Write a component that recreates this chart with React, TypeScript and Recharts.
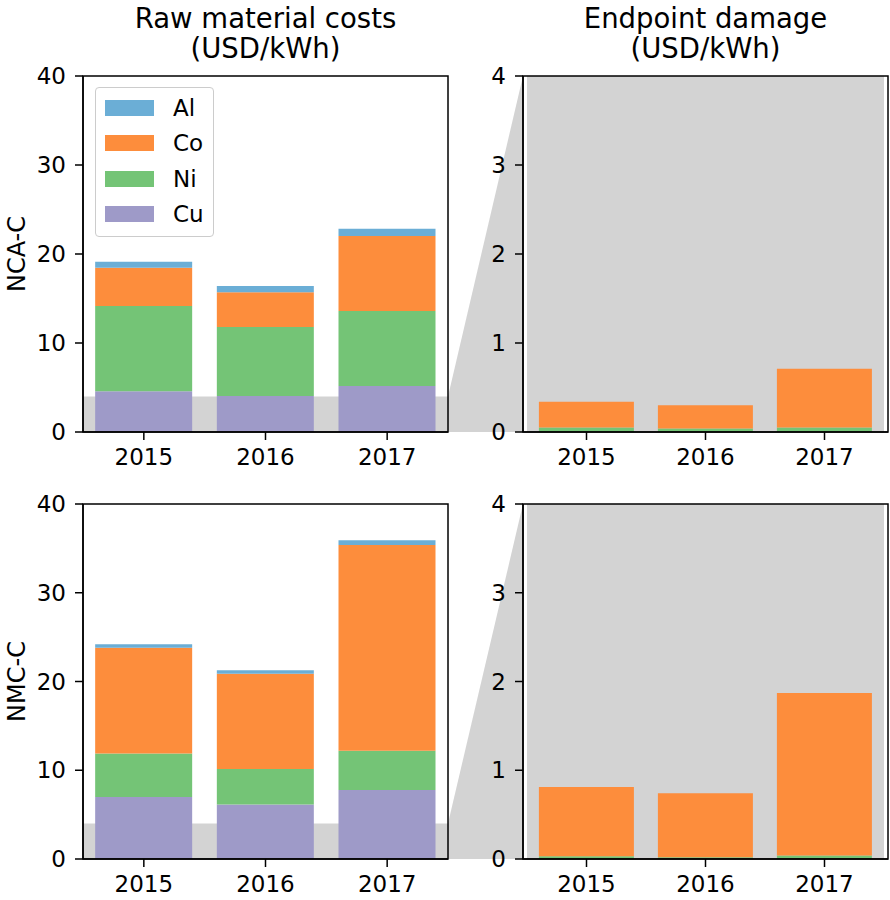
import React from 'react';
import { BarChart, Bar, XAxis, YAxis, ReferenceArea, Legend } from 'recharts';

// ---------- data ----------
const YEARS = ['2015', '2016', '2017'];
const METALS = ['Cu', 'Ni', 'Co', 'Al'];
const LEGEND_ORDER = ['Al', 'Co', 'Ni', 'Cu'];
const COLORS: Record<string, string> = {
  Cu: '#9e9ac8',
  Ni: '#74c476',
  Co: '#fd8d3c',
  Al: '#6baed6',
};

// NCA-C raw material costs (USD/kWh)
const ncaCostCu = [4.57, 4.04, 5.17];
const ncaCostNi = [9.59, 7.76, 8.43];
const ncaCostCo = [4.3, 3.89, 8.42];
const ncaCostAl = [0.68, 0.71, 0.83];

// NMC-C raw material costs (USD/kWh)
const nmcCostCu = [6.98, 6.15, 7.77];
const nmcCostNi = [4.91, 3.98, 4.43];
const nmcCostCo = [11.9, 10.73, 23.18];
const nmcCostAl = [0.41, 0.42, 0.53];

// NCA-C endpoint damage (USD/kWh)
const ncaDmgCu = [0, 0, 0];
const ncaDmgNi = [0.05, 0.04, 0.05];
const ncaDmgCo = [0.29, 0.26, 0.66];
const ncaDmgAl = [0, 0, 0];

// NMC-C endpoint damage (USD/kWh)
const nmcDmgCu = [0, 0, 0];
const nmcDmgNi = [0.03, 0.02, 0.04];
const nmcDmgCo = [0.78, 0.72, 1.83];
const nmcDmgAl = [0, 0, 0];

const COST_TICKS = [0, 10, 20, 30, 40];
const DMG_TICKS = [0, 1, 2, 3, 4];
const COST_MAX = 40;
const DMG_MAX = 4;
const ZOOM_MAX = 4; // zoomed range of the cost axis shown in the damage panel

const TITLE_LEFT = ['Raw material costs', '(USD/kWh)'];
const TITLE_RIGHT = ['Endpoint damage', '(USD/kWh)'];
const ROW_LABELS = ['NCA-C', 'NMC-C'];

function buildRows(cu: number[], ni: number[], co: number[], al: number[]) {
  return YEARS.map((year, i) => ({ year, Cu: cu[i], Ni: ni[i], Co: co[i], Al: al[i] }));
}

const ncaCost = buildRows(ncaCostCu, ncaCostNi, ncaCostCo, ncaCostAl);
const nmcCost = buildRows(nmcCostCu, nmcCostNi, nmcCostCo, nmcCostAl);
const ncaDmg = buildRows(ncaDmgCu, ncaDmgNi, ncaDmgCo, ncaDmgAl);
const nmcDmg = buildRows(nmcDmgCu, nmcDmgNi, nmcDmgCo, nmcDmgAl);

// ---------- layout ----------
const FONT = '"DejaVu Sans", Verdana, sans-serif';
const GRAY = '#d3d3d3';
const LEFT_PLOT = { x0: 83, x1: 448 };
const RIGHT_PLOT = { x0: 523, x1: 888 };
const ROWS = [
  { top: 0, height: 470, plotTop: 76, plotHeight: 356 },
  { top: 430, height: 470, plotTop: 74, plotHeight: 355 },
];

const tickStyle = { fill: '#000', fontSize: 23, fontFamily: FONT };
const lineStyle = { stroke: '#000', strokeWidth: 1.5 };

function LegendBox() {
  return (
    <div
      style={{
        position: 'relative',
        width: 119,
        height: 150,
        boxSizing: 'border-box',
        border: '1px solid #cccccc',
        borderRadius: 4,
        background: 'rgba(255,255,255,0.85)',
        fontFamily: FONT,
        fontSize: 23,
        color: '#000',
      }}
    >
      {LEGEND_ORDER.map((m, i) => (
        <div key={m} style={{ position: 'absolute', left: 0, top: 20 + i * 35.4 - 12, height: 24, width: 119 }}>
          <div
            style={{
              position: 'absolute',
              left: 9,
              top: 4,
              width: 49,
              height: 16,
              background: COLORS[m],
            }}
          />
          <div style={{ position: 'absolute', left: 77, top: -2, lineHeight: '28px' }}>{m}</div>
        </div>
      ))}
    </div>
  );
}

type PanelProps = {
  data: any[];
  left: number;
  top: number;
  width: number;
  height: number;
  plotTop: number;
  plotHeight: number;
  yAxisWidth: number;
  ticks: number[];
  domainMax: number;
  xPad: number;
  zoomBand?: boolean;
  fullGray?: boolean;
  legend?: boolean;
};

function Panel(p: PanelProps) {
  const xAxisHeight = p.height - p.plotTop - p.plotHeight;
  return (
    <div style={{ position: 'absolute', left: p.left, top: p.top, width: p.width, height: p.height }}>
      <BarChart
        width={p.width}
        height={p.height}
        data={p.data}
        margin={{ top: p.plotTop, right: 2, left: 0, bottom: 0 }}
        barCategoryGap="10%"
      >
        {p.fullGray && (
          <ReferenceArea y1={0} y2={p.domainMax} fill={GRAY} fillOpacity={1} stroke="none" ifOverflow="visible" />
        )}
        {p.zoomBand && (
          <ReferenceArea y1={0} y2={ZOOM_MAX} fill={GRAY} fillOpacity={1} stroke="none" ifOverflow="visible" />
        )}
        <XAxis
          dataKey="year"
          height={xAxisHeight}
          padding={{ left: p.xPad, right: p.xPad }}
          tickSize={8}
          tickMargin={9}
          tick={tickStyle}
          axisLine={lineStyle}
          tickLine={lineStyle}
        />
        <YAxis
          type="number"
          width={p.yAxisWidth}
          domain={[0, p.domainMax]}
          ticks={p.ticks}
          interval={0}
          allowDataOverflow
          tickSize={8}
          tickMargin={9}
          tick={tickStyle}
          axisLine={lineStyle}
          tickLine={lineStyle}
        />
        {METALS.map((m) => (
          <Bar key={m} dataKey={m} stackId="s" fill={COLORS[m]} isAnimationActive={false} />
        ))}
        {p.legend && (
          <Legend
            layout="vertical"
            align="center"
            verticalAlign="middle"
            wrapperStyle={{ left: 95, top: 87, width: 119, height: 150 }}
            content={() => <LegendBox />}
          />
        )}
      </BarChart>
    </div>
  );
}

export default function App() {
  return (
    <div style={{ position: 'absolute', left: 0, top: 0, width: 890, height: 900, background: '#fff', fontFamily: FONT }}>
      {/* connectors (behind the charts) */}
      <svg width={890} height={900} style={{ position: 'absolute', left: 0, top: 0 }}>
        {ROWS.map((r, i) => {
          const y0 = r.top + r.plotTop;
          const yb = y0 + r.plotHeight;
          const yz = yb - (r.plotHeight * ZOOM_MAX) / COST_MAX;
          const pts = `${LEFT_PLOT.x1},${yz} ${RIGHT_PLOT.x0},${y0} ${RIGHT_PLOT.x0},${yb} ${LEFT_PLOT.x1},${yb}`;
          return <polygon key={i} points={pts} fill={GRAY} />;
        })}
      </svg>

      {ROWS.map((r, i) => (
        <React.Fragment key={i}>
          <Panel
            data={i === 0 ? ncaCost : nmcCost}
            left={0}
            top={r.top}
            width={LEFT_PLOT.x1 + 2}
            height={r.height}
            plotTop={r.plotTop}
            plotHeight={r.plotHeight}
            yAxisWidth={LEFT_PLOT.x0}
            ticks={COST_TICKS}
            domainMax={COST_MAX}
            xPad={0}
            zoomBand
            legend={i === 0}
          />
          <Panel
            data={i === 0 ? ncaDmg : nmcDmg}
            left={450}
            top={r.top}
            width={RIGHT_PLOT.x1 + 2 - 450}
            height={r.height}
            plotTop={r.plotTop}
            plotHeight={r.plotHeight}
            yAxisWidth={RIGHT_PLOT.x0 - 450}
            ticks={DMG_TICKS}
            domainMax={DMG_MAX}
            xPad={4}
            fullGray
          />
        </React.Fragment>
      ))}

      {/* spines, titles and row labels (front) */}
      <svg width={890} height={900} style={{ position: 'absolute', left: 0, top: 0, pointerEvents: 'none' }}>
        {ROWS.map((r, i) => (
          <g key={i}>
            {[LEFT_PLOT, RIGHT_PLOT].map((pl, j) => (
              <rect
                key={j}
                x={pl.x0}
                y={r.top + r.plotTop}
                width={pl.x1 - pl.x0}
                height={r.plotHeight}
                fill="none"
                stroke="#000"
                strokeWidth={1.5}
              />
            ))}
            <text
              x={25}
              y={r.top + r.plotTop + r.plotHeight / 2}
              transform={`rotate(-90, 25, ${r.top + r.plotTop + r.plotHeight / 2})`}
              textAnchor="middle"
              fontSize={24}
              fontFamily={FONT}
              fill="#000"
            >
              {ROW_LABELS[i]}
            </text>
          </g>
        ))}
        {[
          { lines: TITLE_LEFT, cx: (LEFT_PLOT.x0 + LEFT_PLOT.x1) / 2 },
          { lines: TITLE_RIGHT, cx: (RIGHT_PLOT.x0 + RIGHT_PLOT.x1) / 2 },
        ].map((t, i) => (
          <text key={i} x={t.cx} textAnchor="middle" fontSize={27.5} fontFamily={FONT} fill="#000">
            <tspan x={t.cx} y={28}>
              {t.lines[0]}
            </tspan>
            <tspan x={t.cx} y={58}>
              {t.lines[1]}
            </tspan>
          </text>
        ))}
      </svg>
    </div>
  );
}
